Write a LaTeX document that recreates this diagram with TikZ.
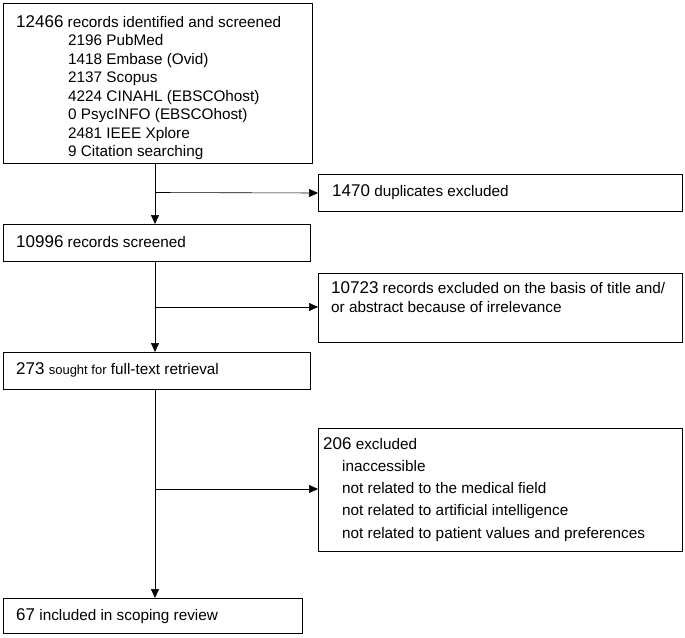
\documentclass[tikz,border=0pt]{standalone}
\usepackage{fontspec}
\setmainfont{Liberation Sans}
\usetikzlibrary{arrows.meta}
\tikzset{
 box/.style={draw, line width=1pt, inner sep=0pt},
 txt/.style={anchor=north west, inner sep=0pt, align=left, font=\fontsize{15.3}{18.5}\selectfont},
 arr/.style={-{Triangle[length=9pt,width=8pt]}, line width=0.6pt}
}
\newcommand{\N}[1]{{\fontsize{17}{14}\selectfont #1}}
\begin{document}
\begin{tikzpicture}[x=1pt,y=-1pt]
\useasboundingbox (0,0) rectangle (685,637);
\node[box, anchor=north west, minimum width=309pt, minimum height=160pt] (b1) at (3,3) {};
\node[txt] (t1) at (16,15) {\N{12466} records identified and screened\\
\hspace{52pt}2196 PubMed\\
\hspace{52pt}1418 Embase (Ovid)\\
\hspace{52pt}2137 Scopus\\
\hspace{52pt}4224 CINAHL (EBSCOhost)\\
\hspace{52pt}0 PsycINFO (EBSCOhost)\\
\hspace{52pt}2481 IEEE Xplore\\
\hspace{52pt}9 Citation searching};
\coordinate (v1) at (155,163);

\node[box, anchor=north west, minimum width=364pt, minimum height=37pt] (d1) at (318,174) {};
\node[txt, anchor=west] (td1) at (332,192) {\N{1470} duplicates excluded};

\node[box, anchor=north west, minimum width=307pt, minimum height=37pt] (b2) at (3,224) {};
\node[txt, anchor=west] (tb2) at (16,242) {\N{10996} records screened};

\node[box, anchor=north west, minimum width=364pt, minimum height=69pt] (d2) at (318,273) {};
\node[txt, font=\fontsize{15.3}{19}\selectfont] (td2) at (331,281) {\N{10723} records excluded on the basis of title and/\\or abstract because of irrelevance};

\node[box, anchor=north west, minimum width=307pt, minimum height=37pt] (b3) at (3,352) {};
\node[txt, anchor=west] (tb3) at (16,370) {\N{273} {\fontsize{13}{14}\selectfont sought for} full-text retrieval};

\node[box, anchor=north west, minimum width=364pt, minimum height=123pt] (d3) at (318,428) {};
\node[txt, font=\fontsize{15.3}{22.3}\selectfont] (td3) at (323,437) {\N{206} excluded\\
\hspace{19pt}inaccessible\\
\hspace{19pt}not related to the medical field\\
\hspace{19pt}not related to artificial intelligence\\
\hspace{19pt}not related to patient values and preferences};

\node[box, anchor=north west, minimum width=299pt, minimum height=35pt] (b4) at (3,598) {};
\node[txt, anchor=west] (tb4) at (16,616) {\N{67} included in scoping review};

\draw[arr] (v1) -- (b2.north -| v1);
\draw[arr] (b2.south -| v1) -- (b3.north -| v1);
\draw[arr] (b3.south -| v1) -- (b4.north -| v1);
\draw[arr] (155,192.5) -- (d1.west);
\draw[arr] (155,307) -- (d2.west |- 0,307);
\draw[arr] (155,489) -- (d3.west |- 0,489);
\end{tikzpicture}
\end{document}
